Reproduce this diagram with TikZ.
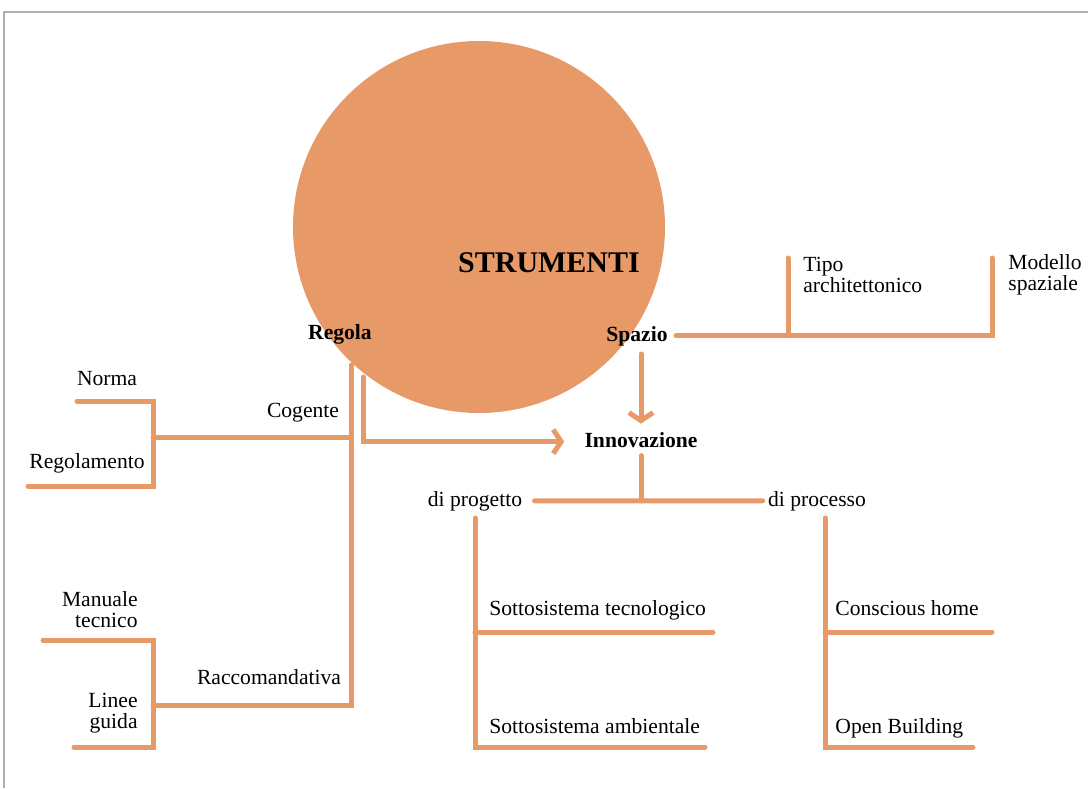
\documentclass[tikz,border=0pt]{standalone}
\usepackage{fontspec}
\setmainfont{Liberation Serif}
\usetikzlibrary{arrows.meta,positioning}

\definecolor{ochre}{RGB}{231,153,103}
\definecolor{framegray}{RGB}{175,175,175}

\begin{document}
\begin{tikzpicture}[
    x=0.5pt, y=-0.5pt,
    font=\fontsize{10.8}{10.5}\selectfont,
    hub/.style={
        circle,
        fill=ochre,
        minimum size=186pt,
        inner sep=0pt
    },
    title/.style={
        font=\fontsize{15}{18}\selectfont\bfseries,
        inner sep=0pt
    },
    key/.style={
        font=\fontsize{10.8}{13}\selectfont\bfseries,
        inner sep=4pt
    },
    leaf/.style={
        inner sep=0pt,
        align=left
    },
    branch/.style={
        draw=ochre,
        line width=2.5pt,
        line cap=round
    },
    flow/.style={
        draw=ochre,
        line width=2.5pt,
        line cap=round,
        -{Straight Barb[length=4pt,width=12pt]}
    },
    frame/.style={
        draw=framegray,
        line width=1pt
    }
]
    \useasboundingbox (0,0) rectangle (1088,788);

    % --- Frame ---
    \coordinate (frameTR) at (1088,12);
    \coordinate (frameTL) at (4,12);
    \coordinate (frameBL) at (4,788);
    \draw[frame] (frameTR) -- (frameTL) -- (frameBL);

    % --- Centre: circle and the three key words ---
    \node[hub] (tools) at (479,227) {};
    \node[title, anchor=base] (strumenti) at (549,272) {STRUMENTI};
    \node[key, anchor=base] (regola) at (340,339) {Regola};
    \node[key, anchor=base] (spazio) at (637,341) {Spazio};
    \node[key, anchor=base] (innov) at (641,447) {Innovazione};

    % --- Left: Regola ---
    \node[leaf, anchor=base] (cogente) at (303,417) {Cogente};
    \node[leaf, anchor=base] (norma) at (107,385) {Norma};
    \node[leaf, anchor=base] (regolamento) at (87,468) {Regolamento};
    \node[leaf, anchor=base] (raccom) at (269,684) {Raccomandativa};
    \node[leaf, align=right, anchor=east] (manuale) at (138,610) {Manuale\\tecnico};
    \node[leaf, align=right, anchor=east] (linee) at (138,713) {Linee\\guida};

    % --- Top right: Spazio ---
    \node[leaf, anchor=west] (tipo) at (803,275) {Tipo\\architettonico};
    \node[leaf, anchor=west] (modello) at (1008,275) {Modello\\spaziale};

    % --- Bottom: Innovazione ---
    \node[leaf, anchor=base] (progetto) at (475,506) {di progetto};
    \node[leaf, anchor=base] (processo) at (817,506) {di processo};
    \node[leaf, anchor=base west] (tecno) at (489,615) {Sottosistema tecnologico};
    \node[leaf, anchor=base west] (ambient) at (489,733) {Sottosistema ambientale};
    \node[leaf, anchor=base west] (conscious) at (835,615) {Conscious home};
    \node[leaf, anchor=base west] (openb) at (835,733) {Open Building};

    % line ends
    \coordinate (regolaA) at (351,365);
    \coordinate (regolaB) at (363,377);
    \coordinate (normaEnd) at (77,401);
    \coordinate (regolamentoEnd) at (28,486);
    \coordinate (manualeEnd) at (43,640);
    \coordinate (lineeEnd) at (74,747);
    \coordinate (racFork) at (153,705);
    \coordinate (cogFork) at (153,437);
    \coordinate (tipoTop) at (788,258);
    \coordinate (modelloTop) at (992,258);
    \coordinate (tecnoEnd) at (713,632);
    \coordinate (ambientEnd) at (705,747);
    \coordinate (consciousEnd) at (992,632);
    \coordinate (openbEnd) at (973,747);

    % --- Connections ---

    % 1. Regola: cogente / raccomandativa
    \draw[branch] (regolaA) |- (racFork);
    \draw[branch] (regolaA |- cogFork) -- (cogFork);
    \draw[branch] (normaEnd) -| (cogFork) |- (regolamentoEnd);
    \draw[branch] (manualeEnd) -| (racFork) |- (lineeEnd);

    % 2. Regola and Spazio lead to Innovazione
    \draw[flow] (regolaB) |- ([xshift=-6pt,yshift=-1pt]innov.west);
    \draw[flow] (innov.north |- spazio.south) -- (innov.north);

    % 3. Spazio
    \draw[branch] (spazio.east) -- (spazio.east -| modelloTop) -- (modelloTop);
    \draw[branch] (tipoTop) -- (tipoTop |- spazio.east);

    % 4. Innovazione: di progetto / di processo
    \draw[branch] (innov.south) -- (innov.south |- progetto.east);
    \draw[branch] ([xshift=6pt]progetto.east) -- ([xshift=-2.5pt]processo.west);
    \draw[branch] ([yshift=-3.5pt]progetto.south) |- (ambientEnd);
    \draw[branch] (progetto.south |- tecnoEnd) -- (tecnoEnd);
    \draw[branch] ([yshift=-3.5pt,xshift=4pt]processo.south) |- (openbEnd);
    \draw[branch] ([xshift=4pt]processo.south |- consciousEnd) -- (consciousEnd);

\end{tikzpicture}
\end{document}
